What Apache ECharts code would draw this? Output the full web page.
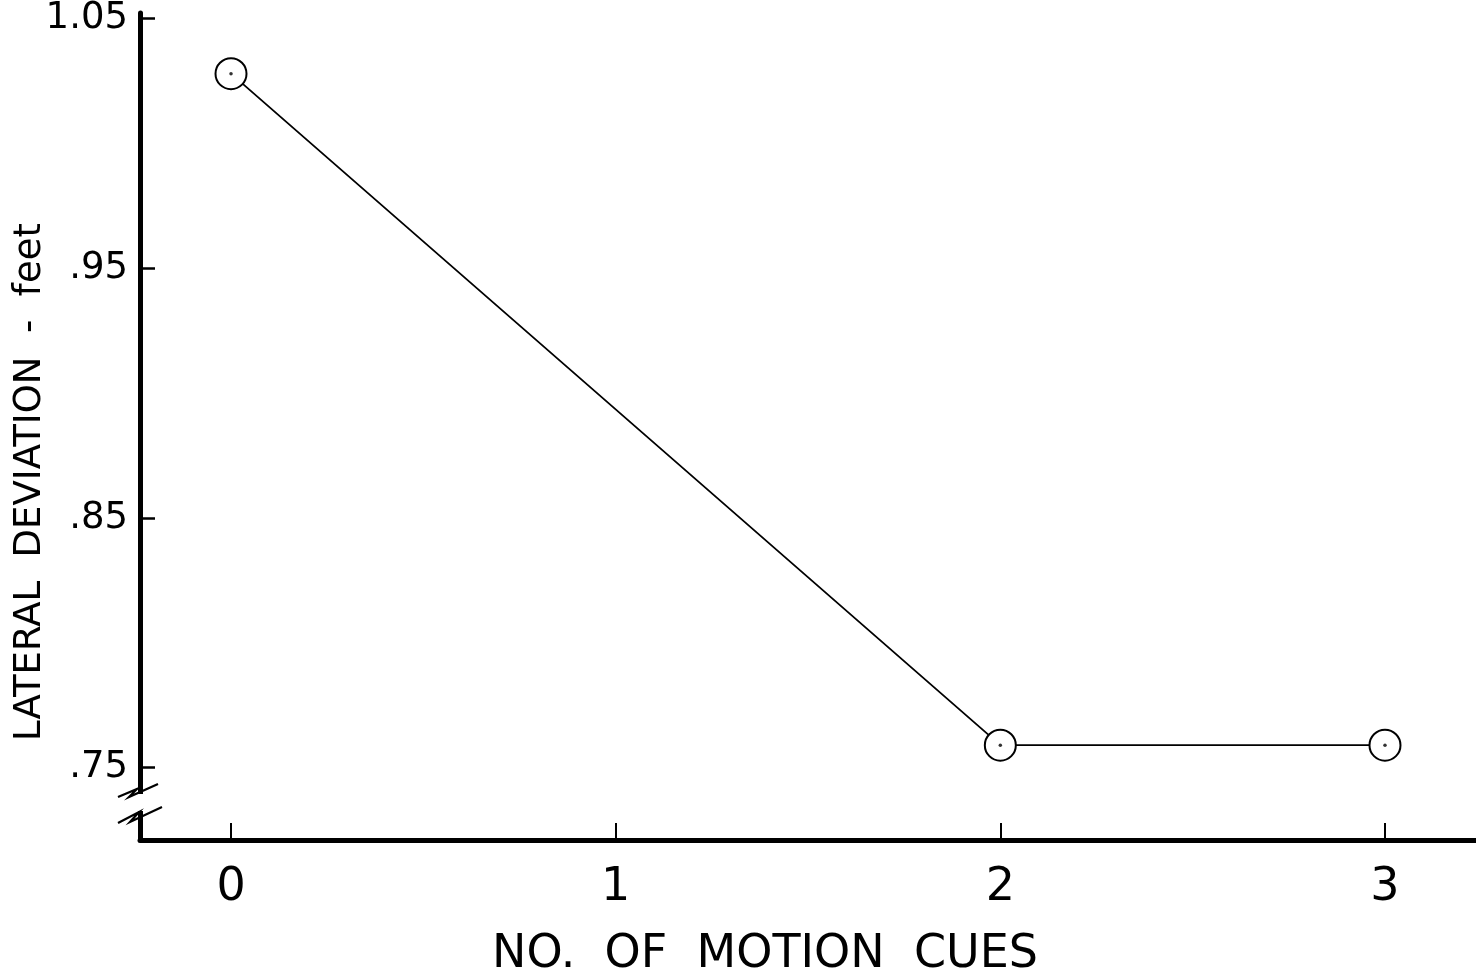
<!DOCTYPE html>
<html>
<head>
<meta charset="utf-8">
<title>Lateral deviation vs motion cues</title>
<script src="https://cdn.jsdelivr.net/npm/echarts@6/dist/echarts.min.js"></script>
<style>
  html, body { margin: 0; padding: 0; background: #fff; }
  #chart { width: 1476px; height: 977px; }
</style>
</head>
<body>
<div id="chart"></div>
<script>
// data
const cues = [0, 2, 3]
const deviation = [1.028, 0.759, 0.759]

const xTicks = [0, 1, 2, 3]
const xTickLabels = ['0', '1', '2', '3']
const yTicks = [0.75, 0.85, 0.95, 1.05]
const yTickLabels = ['.75', '.85', '.95', '1.05']

const font = 'DejaVu Sans'
const ink = '#000'

const chart = echarts.init(document.getElementById('chart'))

const option = {
  backgroundColor: '#fff',
  animation: false,
  grid: {
    left: 140,
    right: 0,
    top: 13,
    bottom: 137,
    outerBoundsMode: 'none'
  },
  xAxis: {
    type: 'value',
    min: -0.2366,
    max: 3.2366,
    name: 'NO.  OF  MOTION  CUES',
    nameLocation: 'middle',
    nameGap: 92,
    nameMoveOverlap: false,
    nameTextStyle: {
      color: ink,
      fontFamily: font,
      fontSize: 46,
      padding: [0, 86, 0, 0]
    },
    splitLine: { show: false },
    axisLine: {
      onZero: false,
      lineStyle: { color: ink, width: 5 }
    },
    axisTick: {
      inside: true,
      length: 17,
      customValues: xTicks,
      lineStyle: { color: ink, width: 2 }
    },
    axisLabel: {
      customValues: xTicks,
      margin: 25,
      color: ink,
      fontFamily: font,
      fontSize: 46,
      formatter: v => xTickLabels[xTicks.indexOf(v)]
    }
  },
  yAxis: {
    type: 'value',
    min: 0.721,
    max: 1.0523,
    name: 'LATERAL  DEVIATION  -  feet',
    nameLocation: 'middle',
    nameGap: 91,
    nameMoveOverlap: false,
    nameTextStyle: {
      color: ink,
      fontFamily: font,
      fontSize: 37,
      padding: [0, 111, 0, 0]
    },
    splitLine: { show: false },
    axisLine: {
      show: true,
      onZero: false,
      lineStyle: { color: ink, width: 5 }
    },
    axisTick: {
      inside: true,
      length: 15,
      customValues: yTicks,
      lineStyle: { color: ink, width: 2.5 }
    },
    axisLabel: {
      customValues: yTicks,
      margin: 12,
      color: ink,
      fontFamily: font,
      fontSize: 37,
      formatter: v => yTickLabels[yTicks.indexOf(v)]
    }
  },
  series: [
    {
      name: 'deviation',
      type: 'line',
      data: cues.map((c, i) => [c, deviation[i]]),
      symbol: 'emptyCircle',
      symbolSize: 31,
      showAllSymbol: true,
      lineStyle: { color: ink, width: 1.8 },
      itemStyle: { color: ink, borderColor: ink, borderWidth: 2.4 },
      z: 3
    },
    {
      name: 'centre',
      type: 'scatter',
      data: cues.map((c, i) => [c, deviation[i]]),
      symbol: 'circle',
      symbolSize: 3.5,
      itemStyle: { color: ink },
      z: 4
    }
  ],
  // axis break decoration
  graphic: [
    {
      type: 'rect',
      z: 100,
      shape: { x: 133, y: 794, width: 15, height: 17 },
      style: { fill: '#fff' }
    },
    {
      type: 'polyline',
      z: 101,
      shape: { points: [[118, 797], [137, 789], [129, 797], [158, 784]] },
      style: { stroke: ink, lineWidth: 2.2, fill: null }
    },
    {
      type: 'polyline',
      z: 101,
      shape: { points: [[118, 823], [139, 812], [130, 822], [162, 807]] },
      style: { stroke: ink, lineWidth: 2.2, fill: null }
    }
  ]
}

chart.setOption(option)
window.addEventListener('resize', () => chart.resize())
</script>
</body>
</html>
